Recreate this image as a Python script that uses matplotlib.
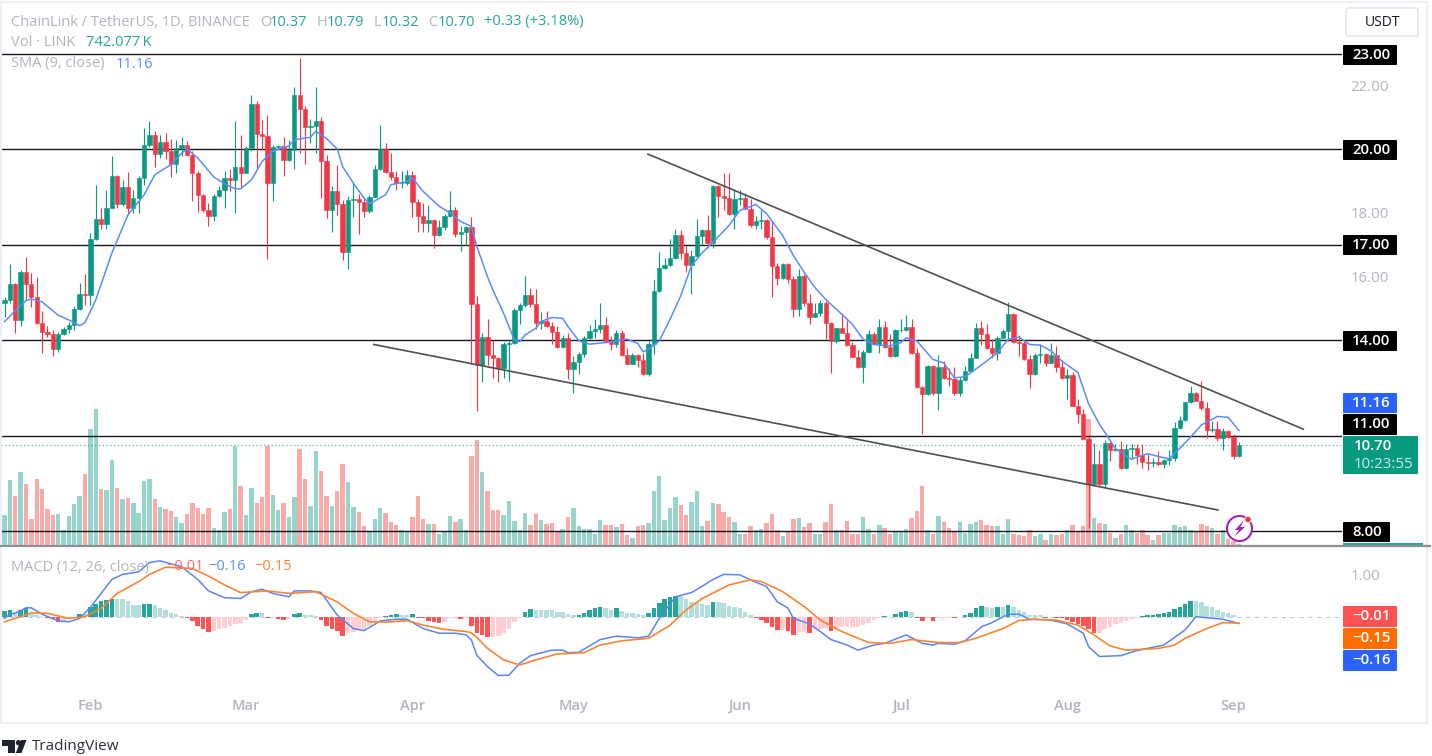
import matplotlib
matplotlib.use('Agg')
import matplotlib.pyplot as plt
from matplotlib.patches import Rectangle, Circle, Polygon, FancyBboxPatch

W, H = 1432, 756

first_open = 15.15
close = [
    15.26,15.75,14.63,16.13,15.75,15.36,14.55,14.25,14.20,13.72,
    14.18,14.34,14.47,14.96,15.45,15.40,17.17,17.80,17.63,18.16,
    19.16,18.28,18.82,18.16,18.47,19.08,20.13,20.45,19.86,20.23,
    19.93,19.54,20.03,20.14,19.80,19.24,18.56,18.09,17.91,18.54,
    18.72,19.08,19.02,19.43,19.24,20.04,21.41,20.48,20.40,18.93,
    20.06,20.09,19.66,19.98,21.69,21.26,20.68,20.73,20.87,19.61,
    18.07,18.67,18.27,16.78,18.40,18.43,18.33,18.04,18.50,19.37,
    20.00,19.27,19.12,18.93,18.93,19.17,18.35,17.91,17.67,17.78,
    17.30,17.54,17.91,18.09,17.33,17.40,17.54,15.13,13.23,14.08,
    13.53,13.42,13.11,13.86,13.92,14.94,15.10,15.41,15.13,14.52,
    14.60,14.44,14.24,13.77,14.05,13.08,13.32,13.56,14.07,14.29,
    14.36,14.46,13.98,13.87,14.21,13.53,13.26,13.53,13.37,12.93,
    13.86,15.55,16.25,16.36,16.57,17.31,16.74,16.36,16.63,17.26,
    17.46,17.05,18.84,18.53,18.46,17.95,18.44,18.46,18.13,17.62,
    17.74,17.78,17.25,16.32,15.94,16.39,15.92,14.99,16.00,15.15,
    14.73,14.86,15.16,14.52,13.96,14.37,14.23,13.83,13.47,13.16,
    13.63,14.20,13.88,14.42,13.78,13.49,14.32,14.33,14.42,13.58,
    12.53,12.31,13.18,12.32,13.16,12.81,12.78,12.32,12.73,13.02,
    13.45,14.39,14.20,13.74,13.58,14.07,14.28,14.83,13.94,13.92,
    13.40,12.92,13.53,13.55,13.29,13.53,13.14,12.81,12.90,11.94,
    11.68,10.90,9.49,10.09,9.49,10.76,10.53,10.58,9.99,10.58,
    10.60,10.40,10.17,10.15,10.18,10.11,10.22,10.29,11.23,11.49,
    12.05,12.35,12.09,11.85,11.16,11.21,10.93,11.13,10.95,10.37,
    10.70]
high = [
    15.36,16.39,15.80,16.20,16.60,16.10,15.97,14.90,14.45,14.30,
    14.26,14.42,14.58,15.08,15.80,16.06,17.35,18.87,18.14,18.72,
    19.79,19.20,19.03,19.28,18.70,19.16,20.66,20.87,20.56,20.45,
    20.50,20.31,20.29,20.38,20.24,19.93,19.30,18.60,18.30,18.60,
    18.83,19.30,19.37,20.87,20.45,20.10,21.71,21.52,20.92,21.08,
    20.14,20.12,20.38,20.29,21.95,22.86,21.36,20.95,21.95,21.00,
    19.82,18.85,19.50,18.40,18.51,18.93,18.60,18.46,18.56,19.51,
    20.75,20.19,19.87,19.30,19.30,19.33,19.30,18.44,18.32,18.25,
    17.80,17.78,17.96,18.67,18.17,17.59,17.59,17.88,15.38,14.21,
    14.65,14.00,13.47,13.95,14.00,15.00,15.15,16.02,15.62,15.60,
    14.89,14.92,14.57,14.44,14.16,14.21,13.49,13.63,14.12,14.46,
    14.65,15.17,14.71,14.12,14.33,14.33,13.74,13.58,13.56,13.58,
    13.97,15.89,16.76,16.58,17.18,17.49,17.46,16.95,16.84,17.81,
    17.49,17.94,18.86,18.86,19.26,19.25,18.76,18.70,18.62,18.42,
    17.89,18.07,17.81,17.71,16.42,16.42,16.42,16.02,16.23,16.07,
    15.46,15.16,15.25,15.23,14.57,14.39,14.86,14.62,13.94,13.68,
    13.68,14.31,14.26,14.65,14.60,14.18,14.36,14.65,14.78,14.65,
    13.76,12.55,13.23,13.20,13.52,13.34,13.13,13.16,12.84,13.17,
    13.58,14.52,14.59,14.51,14.02,14.13,14.35,15.19,14.85,14.16,
    13.97,13.53,13.58,13.86,13.60,13.92,13.81,13.36,13.08,13.00,
    12.15,11.83,11.00,10.77,10.53,10.86,10.81,10.74,10.84,10.74,
    10.74,10.74,10.74,10.43,10.30,10.50,10.27,10.53,11.42,11.62,
    12.06,12.54,12.38,12.72,12.06,11.47,11.47,11.23,11.16,11.05,
    10.79]
low = [
    14.73,15.15,14.21,14.44,15.26,15.05,14.50,13.58,14.10,13.50,
    13.63,14.15,14.23,14.30,14.94,15.10,15.10,17.14,17.50,17.50,
    18.14,18.14,18.20,17.98,17.98,17.98,18.86,20.08,19.45,19.71,
    19.69,19.12,19.24,19.77,19.77,18.38,18.02,18.03,17.57,17.74,
    18.50,18.14,18.67,18.00,18.77,19.24,19.93,19.37,19.98,16.54,
    18.38,20.00,19.16,19.64,19.37,19.87,19.54,20.19,19.87,18.46,
    17.83,17.38,17.93,16.52,16.22,17.88,17.33,17.88,17.99,18.48,
    19.35,19.24,19.03,18.72,18.77,18.88,17.86,17.38,17.38,17.38,
    16.88,17.27,17.46,17.88,17.25,16.81,16.97,13.26,11.77,12.69,
    13.21,12.82,12.69,12.82,12.72,13.89,14.50,15.05,15.05,14.36,
    14.36,14.42,13.89,13.74,13.74,12.76,12.34,12.93,13.47,14.02,
    14.05,14.21,13.95,13.68,13.79,13.49,13.24,13.24,13.16,12.90,
    12.86,13.55,15.52,16.23,16.34,16.55,16.55,16.15,15.46,16.60,
    16.99,16.88,16.88,17.86,18.07,17.92,17.49,18.23,18.11,17.55,
    17.49,17.49,17.18,15.34,15.73,15.92,15.79,14.71,14.76,15.07,
    14.49,14.71,14.74,14.02,12.95,13.92,14.21,13.81,13.46,13.13,
    12.65,13.58,13.86,13.60,13.76,13.47,13.47,14.26,14.28,13.55,
    12.50,11.05,12.28,12.28,11.79,12.76,12.55,12.28,12.23,12.70,
    13.00,13.43,13.83,13.71,13.42,13.36,14.05,13.97,13.92,13.50,
    13.36,12.50,12.90,13.29,13.19,13.27,13.00,12.79,12.15,11.92,
    11.40,10.88,8.08,9.47,9.42,9.35,10.20,10.50,9.96,9.96,
    10.27,10.11,9.99,9.93,10.00,10.06,9.98,10.06,10.19,11.19,
    11.45,12.02,12.07,11.81,10.93,11.10,10.84,10.53,10.92,10.27,
    10.32]
# volume in millions of LINK
volume = [
    9.2,19.7,14.9,22.2,18.5,8.0,20.0,17.0,11.0,9.2,
    9.5,4.9,8.9,12.5,14.9,21.7,35.2,41.0,17.0,16.7,
    25.9,17.3,14.0,14.3,12.8,9.8,19.5,20.1,14.0,11.6,
    11.0,10.4,8.6,6.8,9.5,12.8,11.3,9.5,11.3,5.5,
    4.9,10.1,11.0,29.9,17.9,9.2,17.3,12.8,14.6,29.9,
    15.2,10.7,12.8,8.6,14.6,29.2,20.1,11.9,28.6,22.5,
    14.9,11.9,16.4,24.7,19.2,11.6,10.1,5.9,4.6,8.0,
    11.3,9.8,7.1,6.2,4.9,4.3,8.6,14.9,8.0,6.7,
    6.7,3.7,4.1,8.9,7.1,8.0,4.7,27.1,31.9,22.2,
    16.4,10.9,10.9,9.2,13.4,7.4,4.9,9.8,6.2,9.5,
    7.9,6.5,6.8,4.4,5.2,8.6,11.3,5.9,5.2,5.2,
    3.7,7.7,6.2,6.4,5.6,6.5,3.4,2.5,5.9,6.2,
    6.8,16.4,21.0,7.7,11.3,14.6,12.2,9.2,13.1,16.4,
    5.9,7.4,12.8,12.5,10.1,8.6,7.1,3.5,3.7,5.9,
    4.7,5.2,6.8,9.5,4.7,2.9,4.2,8.0,8.3,5.6,
    6.8,3.7,3.7,7.1,12.5,4.9,4.7,7.4,3.5,3.7,
    8.6,5.2,3.7,6.2,5.3,3.7,4.2,4.2,5.2,8.3,
    10.4,17.9,4.7,3.7,8.9,7.1,5.5,4.5,7.2,3.9,
    6.5,7.2,7.7,6.2,5.9,6.0,3.7,8.0,3.5,3.2,
    2.9,4.7,2.9,3.5,1.9,3.7,3.4,3.7,4.7,6.2,
    4.5,5.9,38.2,8.5,6.9,6.5,3.9,2.5,3.7,6.2,
    4.7,3.9,4.9,3.4,1.9,3.4,3.9,3.9,6.2,5.7,
    5.9,4.9,4.2,6.5,5.9,5.5,3.7,4.7,2.2,1.5,
    0.742]
macd_hist = [
    .13,.17,.12,.17,.20,.09,.04,0,-.03,-.06,
    -.12,-.11,-.04,-.03,.06,.06,.22,.31,.36,.39,
    .43,.43,.41,.36,.28,.28,.30,.31,.28,.21,
    .16,.09,.06,.02,-.04,-.11,-.22,-.30,-.35,-.33,
    -.30,-.26,-.22,-.17,-.16,-.08,.07,.08,.08,-.04,
    -.02,-.05,-.08,-.06,.06,.08,.04,.03,.02,-.08,
    -.21,-.30,-.33,-.46,-.39,-.35,-.31,-.28,-.22,-.12,
    -.04,.02,.05,.06,.04,.04,.06,-.02,-.04,-.09,
    -.12,-.16,-.12,-.04,-.02,-.06,-.02,-.21,-.39,-.43,
    -.47,-.47,-.46,-.38,-.28,-.12,-.02,.12,.19,.17,
    .17,.17,.16,.12,.12,.06,.03,.04,.09,.16,
    .20,.22,.20,.17,.20,.14,.09,.09,.06,.04,
    .09,.21,.33,.41,.46,.49,.49,.41,.35,.35,
    .30,.28,.35,.35,.33,.26,.22,.20,.12,.04,
    -.04,-.08,-.14,-.24,-.31,-.31,-.33,-.43,-.36,-.36,
    -.39,-.30,-.30,-.27,-.33,-.26,-.25,-.25,-.25,-.25,
    -.20,-.14,-.08,-.02,.02,0,.06,.10,.13,.11,
    -.03,-.09,-.03,-.09,-.02,-.02,-.02,-.04,0,.05,
    .09,.20,.25,.22,.20,.24,.24,.28,.22,.17,
    .12,.04,.04,.03,-.02,0,-.02,-.04,-.08,-.12,
    -.17,-.21,-.30,-.39,-.39,-.30,-.25,-.17,-.14,-.09,
    -.05,-.02,.02,.03,.05,.06,.08,.11,.19,.24,
    .31,.37,.37,.35,.25,.22,.17,.12,.09,.05,
    -.01]

sma_day = [0,2,4,5,7,10,12,14,15,17,20,23,26,28,31,33,34,36,39,41,43,44,46,48,50,53,54,57,58,60,
           62,63,65,67,68,71,72,75,76,78,81,83,85,87,88,90,91,93,95,96,97,99,100,102,104,105,107,109,112,116,
           118,119,120,122,124,126,128,130,132,135,137,140,142,145,147,149,151,153,156,158,160,162,165,167,168,170,173,175,177,179,
           182,185,187,189,191,193,195,197,200,202,204,206,207,210,211,213,215,217,219,221,223,226,228,230]
sma_val = [14.58,14.92,15.24,15.29,15.20,14.78,14.63,14.45,14.55,15.26,16.73,17.93,18.56,19.19,19.51,19.87,20.00,19.72,19.12,18.91,18.75,18.75,19.03,19.61,19.93,20.10,20.29,20.37,20.56,20.33,
           20.00,19.45,18.93,18.46,18.28,18.56,18.88,18.98,19.09,18.67,18.20,17.99,17.72,17.57,16.94,15.99,15.57,14.84,14.00,13.95,14.16,14.37,14.58,14.71,14.68,14.42,13.98,13.87,13.92,14.03,
           13.89,13.63,13.71,13.97,14.65,15.39,16.34,16.74,17.07,17.60,18.07,18.26,17.97,17.28,16.65,16.13,15.65,15.28,14.81,14.49,14.02,13.86,13.81,13.92,14.07,13.97,13.39,13.28,12.81,12.85,
           13.21,13.60,14.02,14.09,13.86,13.84,13.66,13.34,12.98,11.99,11.36,10.85,10.58,10.25,10.32,10.43,10.34,10.27,10.60,10.95,11.33,11.60,11.57,11.16]

macd_day = [0,1,2,4,5,7,10,12,14,16,20,22,25,27,29,33,36,38,41,44,46,48,50,53,54,57,59,62,65,67,70,73,75,78,81,84,86,
            87,88,90,92,94,96,98,102,104,105,107,111,114,118,120,122,125,128,130,132,134,137,139,142,144,146,147,150,152,154,157,159,162,164,168,171,173,
            174,177,179,181,182,184,187,189,191,195,198,201,202,204,208,211,216,220,222,227,230]
macd_val = [-.04,.06,.08,.21,.21,.06,-.10,-.12,-.04,.22,.88,1.0,1.06,1.28,1.32,1.18,.88,.61,.45,.43,.59,.65,.55,.47,.61,.61,.57,.04,-.28,-.33,-.10,-.06,-.06,-.28,-.39,-.39,-.43,
            -.55,-.91,-1.18,-1.39,-1.38,-1.10,-.92,-.79,-.79,-.85,-.84,-.54,-.46,-.50,-.46,-.04,.47,.57,.72,.88,1.0,.99,.87,.71,.35,.20,-.04,-.17,-.35,-.54,-.67,-.79,-.67,-.63,-.43,-.63,-.67,
            -.63,-.65,-.57,-.35,-.24,-.14,.06,.06,-.06,-.08,-.17,-.39,-.71,-.94,-.92,-.80,-.67,-.31,0,-.06,-.16]
signal_day = [0,2,5,8,12,15,18,21,25,27,30,35,38,41,44,49,53,58,62,65,68,71,75,78,82,86,87,88,90,93,96,99,103,108,111,115,120,124,127,130,135,139,141,145,149,152,156,161,165,169,174,178,181,186,189,192,196,200,203,206,209,215,218,220,224,227,230]
signal_val = [-.12,-.04,.09,.08,-.04,0,.20,.55,.83,1.0,1.17,1.14,.96,.75,.57,.61,.55,.59,.35,.08,-.12,-.13,-.09,-.20,-.30,-.35,-.38,-.49,-.75,-1.02,-1.14,-1.02,-.88,-.85,-.67,-.57,-.51,-.20,.16,.43,.75,.87,.83,.59,.24,-.08,-.35,-.61,-.63,-.54,-.61,-.61,-.51,-.28,-.09,-.06,-.08,-.20,-.43,-.69,-.79,-.75,-.67,-.51,-.28,-.14,-.15]

levels = [23, 20, 17, 14, 11, 8]
price_ticks = [22, 18, 16]
month_ticks = [16, 45, 76, 106, 137, 167, 198, 229]
month_labels = ['Feb', 'Mar', 'Apr', 'May', 'Jun', 'Jul', 'Aug', 'Sep']
upper_trend = ([119.9, 242.0], [19.84, 11.2])
lower_trend = ([68.8, 226.1], [13.86, 8.66])

GREEN = '#089981'
RED = '#F23645'
GREY = '#b2b5be'
plt.rcParams['font.family'] = ['Open Sans', 'DejaVu Sans']

fig = plt.figure(figsize=(W / 100, H / 100), dpi=100, facecolor='white')


def px_axes(x0, y0, x1, y1):
    ax = fig.add_axes([x0 / W, 1 - y1 / H, (x1 - x0) / W, (y1 - y0) / H])
    ax.patch.set_alpha(0)
    for s in ax.spines.values():
        s.set_visible(False)
    return ax


days = list(range(len(close)))
opens = [first_open] + close[:-1]
up = [c >= o for o, c in zip(opens, close)]
xlim = ((1 - 4.5) / 5.367, (1342 - 4.5) / 5.367)

# volume sits behind the candles
ax_v = px_axes(1, 3, 1342, 546)
ax_v.bar(days, volume, width=0.82, color=['#96d5cb' if u else '#fbaaaa' for u in up], linewidth=0)
ax_v.set_xlim(xlim)
ax_v.set_ylim(0, 163)
ax_v.set_xticks([])
ax_v.set_yticks([])

ax = px_axes(1, 2, 1342, 545)
for lv in levels:
    ax.axhline(lv, color='#131722', lw=1.0, zorder=1)
ax.axhline(close[-1], color=GREEN, lw=0.9, ls=(0, (1, 2)), alpha=0.7, zorder=1)
colors = [GREEN if u else RED for u in up]
ax.vlines(days, low, high, colors=colors, lw=0.8, zorder=2)
bottoms = [min(o, c) for o, c in zip(opens, close)]
heights = [abs(c - o) for o, c in zip(opens, close)]
ax.bar(days, heights, bottom=bottoms, width=0.8, color=colors, edgecolor=colors, lw=0.4, zorder=3)
ax.plot(sma_day, sma_val, color='#5b8cff', lw=1.1, zorder=4)
ax.plot(*upper_trend, color='#505050', lw=1.2, zorder=5)
ax.plot(*lower_trend, color='#505050', lw=1.2, zorder=5)
ax.set_xlim(xlim)
ax.set_ylim(7.56, 24.62)
ax.set_xticks([])
ax.yaxis.tick_right()
ax.set_yticks(price_ticks, [f'{t:.2f}' for t in price_ticks])
ax.tick_params(axis='y', length=0, pad=6, labelsize=10.8, labelcolor=GREY)

# MACD pane
ax_m = px_axes(1, 547, 1342, 692)
hist_colors = []
prev = 0
for v in macd_hist:
    if v >= 0:
        hist_colors.append('#26a69a' if v > prev else '#b2dfdb')
    else:
        hist_colors.append('#ff5252' if v < prev else '#ffcdd2')
    prev = v
ax_m.bar(days, macd_hist, width=0.84, color=hist_colors, linewidth=0, zorder=2)
ax_m.axhline(0, color=GREY, lw=0.8, ls=(0, (4, 4)), alpha=0.7, zorder=1)
ax_m.plot(macd_day, macd_val, color='#5b85f5', lw=1.1, zorder=3)
ax_m.plot(signal_day, signal_val, color='#fb8533', lw=1.2, zorder=4)
ax_m.set_xlim(xlim)
ax_m.set_ylim(-1.779, 1.647)
ax_m.yaxis.tick_right()
ax_m.set_yticks([1], ['1.00'])
ax_m.set_xticks(month_ticks, month_labels)
ax_m.tick_params(axis='y', length=0, pad=6, labelsize=10.8, labelcolor=GREY)
ax_m.tick_params(axis='x', length=0, pad=5, labelsize=10.5, labelcolor=GREY)
for t in ax_m.get_xticklabels():
    t.set_fontweight('semibold')

# page furniture in pixel coordinates
ov = fig.add_axes([0, 0, 1, 1], zorder=10)
ov.set_xlim(0, W)
ov.set_ylim(H, 0)
ov.axis('off')
ov.add_patch(Rectangle((1, 2), 1426, 721, fill=False, ec='#eef0f6', lw=1.6))
ov.plot([0, 1430], [546, 546], color='#8f9096', lw=1.6)


def badge(x0, x1, y0, y1, color, txt, tc='white'):
    ov.add_patch(FancyBboxPatch((x0 + 1, y0 + 1), x1 - x0 - 2, y1 - y0 - 2, boxstyle='round,pad=1',
                                fc=color, ec='none'))
    ov.text(x0 + 9, (y0 + y1) / 2, txt, color=tc, fontsize=10.8, va='center', ha='left', fontweight='semibold')


badge(1343, 1397, 45, 65, '#000000', '23.00')
badge(1343, 1397, 140, 160, '#000000', '20.00')
badge(1343, 1397, 235, 255, '#000000', '17.00')
badge(1343, 1397, 331, 351, '#000000', '14.00')
badge(1343, 1397, 393, 413, '#2962ff', '11.16')
badge(1343, 1397, 414, 435, '#000000', '11.00')
badge(1343, 1390, 522, 542, '#000000', '8.00')
badge(1343, 1397, 606, 627, '#ff5252', '\u22120.01')
badge(1343, 1397, 628, 649, '#ff6d00', '\u22120.15')
badge(1343, 1397, 650, 671, '#2962ff', '\u22120.16')

ov.add_patch(FancyBboxPatch((1344, 437), 73, 36, boxstyle='round,pad=1', fc=GREEN, ec='none'))
ov.text(1354, 446, '10.70', color='white', fontsize=10.8, va='center', fontweight='semibold')
ov.text(1354, 464, '10:23:55', color='#cfeee8', fontsize=10.8, va='center')
ov.add_patch(Rectangle((1343, 542.5), 80, 2.5, fc='#26a69a', ec='none'))

ov.add_patch(FancyBboxPatch((1348, 10), 68, 24, boxstyle='round,pad=2', fc='white', ec='#e0e3eb', lw=1))
ov.text(1382, 22, 'USDT', color='#131722', fontsize=10, ha='center', va='center')

# legend rows
LS = 10.5
ov.text(11, 22, 'ChainLink / TetherUS, 1D, BINANCE', color=GREY, fontsize=LS, va='center')
for x, lab, val in [(260, 'O', '10.37'), (317, 'H', '10.79'), (374, 'L', '10.32'), (428, 'C', '10.70')]:
    ov.text(x, 22, lab, color=GREY, fontsize=LS, va='center')
    ov.text(x + (10 if lab != 'L' else 8), 22, val, color='#26a69a', fontsize=LS, va='center')
ov.text(484, 22, '+0.33 (+3.18%)', color='#26a69a', fontsize=LS, va='center')
ov.text(11, 43, 'Vol \u00b7 LINK', color=GREY, fontsize=LS, va='center')
ov.text(86, 43, '742.077\u2009K', color='#26a69a', fontsize=LS, va='center')
ov.text(11, 64, 'SMA (9, close)', color=GREY, fontsize=LS, va='center')
ov.text(116, 64, '11.16', color='#5b8cff', fontsize=LS, va='center')
ov.text(11, 567, 'MACD (12, 26, close)', color=GREY, fontsize=LS, va='center')
ov.text(166, 567, '\u22120.01', color='#ff6b75', fontsize=LS, va='center')
ov.text(208, 567, '\u22120.16', color='#5b8cff', fontsize=LS, va='center')
ov.text(254, 567, '\u22120.15', color='#fb8533', fontsize=LS, va='center')

# lightning badge
ov.add_patch(Circle((1239.5, 528.5), 12.5, fc='white', ec='#9c27b0', lw=1.5))
ov.add_patch(Polygon([(1244, 520), (1235, 530), (1239, 530), (1234, 537), (1245, 527), (1240.5, 527)],
                     fc='#9c27b0', ec='none'))
ov.add_patch(Circle((1248, 519.5), 3.2, fc='#f23645', ec='white', lw=0.6))

# TradingView logo
ov.add_patch(Polygon([(2, 740), (15, 740), (15, 753), (8, 753), (8, 746), (2, 746)], fc='#1e222d', ec='none'))
ov.add_patch(Circle((18.5, 742.7), 2.7, fc='#1e222d', ec='none'))
ov.add_patch(Polygon([(21, 740), (26.5, 740), (21.5, 753), (15.8, 753)], fc='#1e222d', ec='none'))
ov.text(32, 747, 'TradingView', color='#2a2e39', fontsize=11, va='center')

fig.savefig('out.png', dpi=100)
